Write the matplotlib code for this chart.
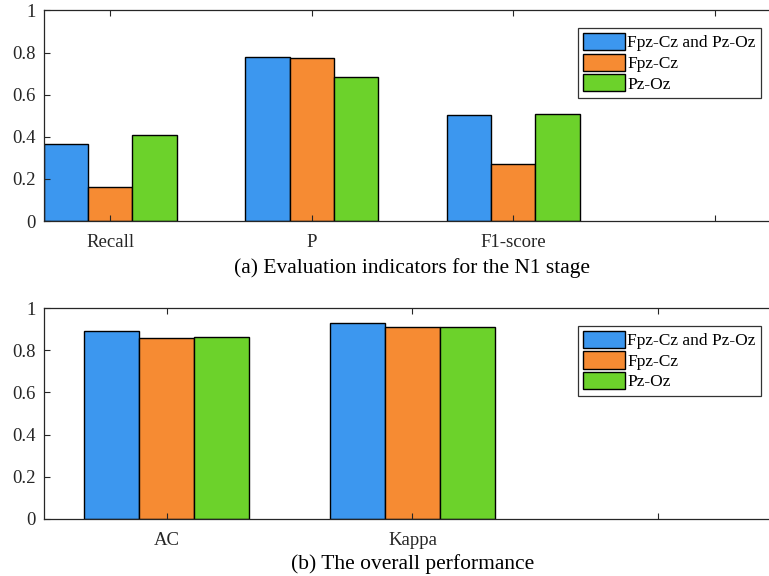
import numpy as np
import matplotlib
matplotlib.use('Agg')
import matplotlib.pyplot as plt

plt.rcParams['font.family'] = ['Liberation Serif', 'DejaVu Serif']

#   Data
series = ['Fpz-Cz and Pz-Oz', 'Fpz-Cz', 'Pz-Oz']
colors = ['#3c97ef', '#f68b33', '#6cd22b']

n1_labels = ['Recall', 'P', 'F1-score', '']
n1_blue = [0.366, 0.781, 0.504]
n1_orange = [0.163, 0.775, 0.271]
n1_green = [0.407, 0.686, 0.509]

all_labels = ['AC', 'Kappa', '']
all_blue = [0.891, 0.932]
all_orange = [0.857, 0.910]
all_green = [0.864, 0.910]

captions = ['(a) Evaluation indicators for the N1 stage',
            '(b) The overall performance']

fig = plt.figure(figsize=(7.69, 5.76), dpi=100)
ax1 = fig.add_axes([0.0572, 0.6163, 0.9584, 0.3655])
ax2 = fig.add_axes([0.0572, 0.0995, 0.9584, 0.3653])

##
#   Grouped bar helper, MATLAB look
def grouped(ax, labels, vals, width, xlim, caption, capad):
    x = np.arange(1, len(vals[0]) + 1)
    for i, (v, c, s) in enumerate(zip(vals, colors, series)):
        ax.bar(x + (i - 1) * width, v, width, color=c, edgecolor='black',
               linewidth=1.0, label=s)
    ax.set_xlim(xlim)
    ax.set_ylim(0, 1)
    ax.set_xticks(np.arange(1, len(labels) + 1))
    ax.set_xticklabels(labels)
    ax.set_yticks([0, 0.2, 0.4, 0.6, 0.8, 1])
    ax.set_yticklabels(['0', '0.2', '0.4', '0.6', '0.8', '1'])
    ax.tick_params(direction='in', top=True, right=True, labelsize=13.5,
                   length=4, width=0.8, colors='#262626')
    ax.tick_params(axis='x', pad=9.5)
    ax.tick_params(axis='y', pad=6)
    for sp in ax.spines.values():
        sp.set_color('#262626')
        sp.set_linewidth(0.9)
    ax.set_xlabel(caption, fontsize=15.5, labelpad=capad)
    leg = ax.legend(loc='upper left', bbox_to_anchor=(0.724, 0.918),
                    fontsize=12.5, frameon=True, fancybox=False,
                    handlelength=2.45, handleheight=1.15, handletextpad=0.1,
                    labelspacing=0.12, borderpad=0.3, borderaxespad=0)
    leg.get_frame().set_edgecolor('black')
    leg.get_frame().set_linewidth(0.9)

grouped(ax1, n1_labels, [n1_blue, n1_orange, n1_green], 0.22,
        (0.672, 4.328), captions[0], 5.0)
grouped(ax2, all_labels, [all_blue, all_orange, all_green], 0.224,
        (0.5, 3.5), captions[1], 4.0)

fig.savefig('out.png', dpi=100)
